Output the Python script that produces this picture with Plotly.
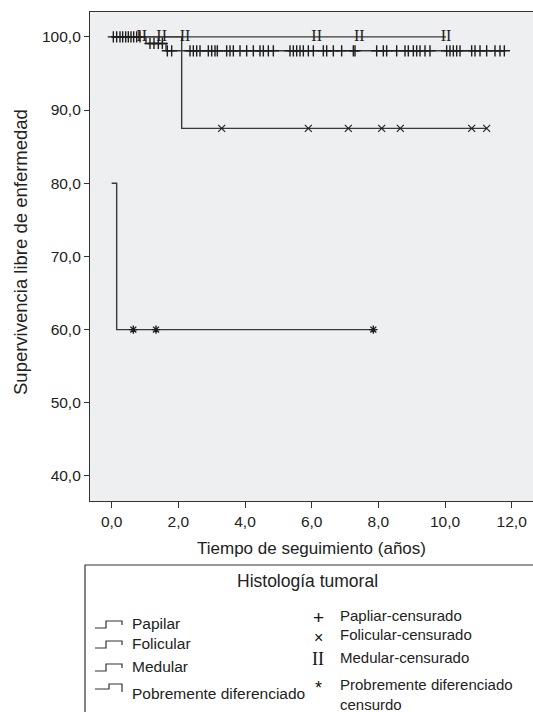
import numpy as np
import plotly.graph_objects as go

# ---------------- data ----------------
# Kaplan-Meier step curves (event times and survival after each step)
papilar_t = [0, 1.03, 1.63, 11.8]
papilar_s = [100, 99.1, 98.1, 98.1]
folicular_t = [0, 2.1, 11.25]
folicular_s = [100, 87.5, 87.5]
medular_t = [0, 10.03]
medular_s = [100, 100]
pobre_t = [0, 0.15, 7.9]
pobre_s = [80, 60, 60]

# censored observations (years)
papilar_cens = [0.05, 0.15, 0.25, 0.33, 0.42, 0.5, 0.58, 0.66, 0.75, 0.85,
                1.15, 1.27, 1.4, 1.52,
                1.67, 1.8, 2.35, 2.45, 2.55, 2.65, 2.9, 3.0, 3.1, 3.17, 3.45, 3.55,
                3.65, 3.85, 4.05, 4.25, 4.45, 4.55, 4.7, 4.85, 5.35, 5.45, 5.55,
                5.65, 5.75, 5.9, 6.05, 6.35, 6.45, 6.65, 6.9, 7.25, 7.3, 7.95,
                8.15, 8.25, 8.55, 8.8, 8.9, 9.05, 9.15, 9.25, 9.4, 9.55, 10.05,
                10.15, 10.25, 10.35, 10.45, 10.8, 10.9, 11.05, 11.25, 11.5, 11.65, 11.78]
folicular_cens = [3.3, 5.9, 7.1, 8.1, 8.66, 10.8, 11.25]
medular_cens = [0.9, 1.5, 2.2, 6.15, 7.43, 10.03]
pobre_cens = [0.65, 1.33, 7.85]

x_ticks = [0, 2, 4, 6, 8, 10, 12]
x_ticktext = ["0,0", "2,0", "4,0", "6,0", "8,0", "10,0", "12,0"]
y_ticks = [40, 50, 60, 70, 80, 90, 100]
y_ticktext = ["40,0", "50,0", "60,0", "70,0", "80,0", "90,0", "100,0"]

x_title = "Tiempo de seguimiento (años)"
y_title = "Supervivencia libre de enfermedad"
legend_title = "Histología tumoral"
curve_names = ["Papilar", "Folicular", "Medular", "Pobremente diferenciado"]
cens_names = ["Papliar-censurado", "Folicular-censurado", "Medular-censurado",
              "Probremente diferenciado<br>censurdo"]


def surv_at(times, surv, t):
    idx = np.searchsorted(np.asarray(times), np.asarray(t), side="right") - 1
    return list(np.asarray(surv)[idx])


FONT = "Liberation Sans, Arial, sans-serif"
SERIF = "Liberation Serif, Times New Roman, serif"
LINE_C = "#3a3a3a"
MARK_C = "#1e1e1e"
TXT_C = "#222"

fig = go.Figure()

for t, s in [(papilar_t, papilar_s), (folicular_t, folicular_s),
             (medular_t, medular_s), (pobre_t, pobre_s)]:
    fig.add_trace(go.Scatter(x=t, y=s, mode="lines", line_shape="hv",
                             line=dict(color=LINE_C, width=1.4),
                             showlegend=False, hoverinfo="skip"))

fig.add_trace(go.Scatter(x=papilar_cens, y=surv_at(papilar_t, papilar_s, papilar_cens),
                         mode="markers",
                         marker=dict(symbol="cross-thin-open", size=8, color=MARK_C,
                                     line=dict(color=MARK_C, width=1.4)),
                         showlegend=False))
fig.add_trace(go.Scatter(x=folicular_cens, y=surv_at(folicular_t, folicular_s, folicular_cens),
                         mode="markers",
                         marker=dict(symbol="x-thin-open", size=7, color=MARK_C,
                                     line=dict(color=MARK_C, width=1.1)),
                         showlegend=False))
fig.add_trace(go.Scatter(x=medular_cens, y=surv_at(medular_t, medular_s, medular_cens),
                         mode="text", text=["II"] * len(medular_cens),
                         textposition="middle center",
                         textfont=dict(family=SERIF, size=16, color=MARK_C),
                         showlegend=False))
fig.add_trace(go.Scatter(x=pobre_cens, y=surv_at(pobre_t, pobre_s, pobre_cens),
                         mode="markers",
                         marker=dict(symbol="asterisk-open", size=7, color=MARK_C,
                                     line=dict(color=MARK_C, width=1.4)),
                         showlegend=False))

# ---------- layout geometry (pixels) ----------
W, H = 533, 712
L, T, R, B = 90, 12, 533, 501
PW, PH = R - L, B - T


def xp(x):
    return (x - L) / PW


def yp(y):
    return (B - y) / PH


shapes = []
annotations = []


def text_at(x, y, text, size, xanchor="center", family=FONT, color=TXT_C, angle=0, align="left"):
    annotations.append(dict(x=xp(x), y=yp(y), xref="paper", yref="paper",
                            text=text, showarrow=False, xanchor=xanchor,
                            yanchor="middle", textangle=angle, align=align,
                            font=dict(family=family, size=size, color=color)))


# axis titles
text_at(311.5, 548, x_title, 17)
text_at(20, 252, y_title, 18.5, angle=-90)

# legend box
shapes.append(dict(type="rect", xref="paper", yref="paper",
                   x0=xp(85), x1=xp(545), y0=yp(565), y1=yp(730),
                   line=dict(color="#333", width=1.2), fillcolor="white"))
text_at(307, 581, legend_title, 17.5)

left_rows = [623, 643, 666, 693]
for i, (name, yc) in enumerate(zip(curve_names, left_rows)):
    if i < 3:
        pts = [(95, yc + 5), (106, yc + 5), (106, yc - 2), (122, yc - 2), (122, yc + 2)]
    else:
        pts = [(95, yc - 4), (109, yc - 4), (109, yc - 9), (122, yc - 9), (122, yc - 1)]
    path = "M " + " L ".join(f"{xp(a)},{yp(b)}" for a, b in pts)
    shapes.append(dict(type="path", xref="paper", yref="paper", path=path,
                       line=dict(color="#333", width=1.2)))
    text_at(130, yc, name, 15.5, xanchor="left")

right_rows = [615, 634, 657, 694]
for name, yc in zip(cens_names, right_rows):
    text_at(338, yc, name, 15, xanchor="left")

text_at(318, 617, "+", 19, color="#111")
text_at(318, 637, "×", 16, color="#111")
text_at(318, 659, "II", 18, family=SERIF, color="#111")
text_at(318, 688, "*", 18, color="#111")

fig.update_layout(
    width=W, height=H,
    margin=dict(l=L, r=W - R, t=T, b=H - B, pad=0),
    paper_bgcolor="white",
    plot_bgcolor="#eeeff1",
    showlegend=False,
    shapes=shapes,
    annotations=annotations,
    font=dict(family=FONT, size=15, color=TXT_C),
)
fig.update_xaxes(range=[-0.65, 12.64], tickvals=x_ticks, ticktext=x_ticktext,
                 showgrid=False, zeroline=False, showline=True, linecolor="#333",
                 linewidth=1.2, mirror=True, ticks="outside", ticklen=6,
                 tickcolor="#333", tickfont=dict(size=15.5, family=FONT, color=TXT_C),
                 automargin=False)
fig.update_yaxes(range=[36.58, 103.4], tickvals=y_ticks, ticktext=y_ticktext,
                 showgrid=False, zeroline=False, showline=True, linecolor="#333",
                 linewidth=1.2, ticks="outside", ticklen=5, tickcolor="#333",
                 tickfont=dict(size=15.5, family=FONT, color=TXT_C),
                 automargin=False)

fig.write_html("out.html", config={"displayModeBar": False},
               post_script="document.body.style.margin='0';document.body.style.overflow='hidden';")
